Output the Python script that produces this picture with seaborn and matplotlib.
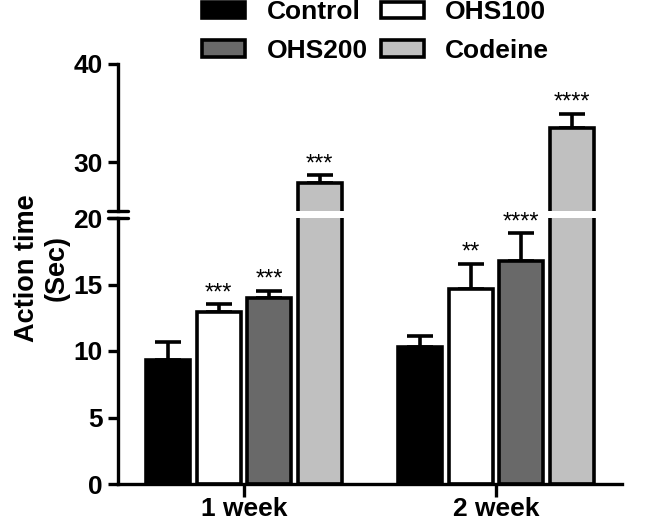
import matplotlib
matplotlib.use("Agg")
import matplotlib.pyplot as plt
import seaborn as sns
import pandas as pd
import numpy as np
from matplotlib.patches import Patch

# ---- data ----
weeks = ["1 week", "2 week"]
groups = ["Control", "OHS100", "OHS200", "Codeine"]
mean_1wk = [9.32, 12.95, 13.96, 27.83]
err_1wk = [1.38, 0.58, 0.57, 0.84]
mean_2wk = [10.28, 14.66, 16.79, 33.44]
err_2wk = [0.85, 1.88, 2.06, 1.46]
stars_1wk = ["", "***", "***", "***"]
stars_2wk = ["", "**", "****", "****"]
colors = ["#000000", "#ffffff", "#696969", "#c0c0c0"]

rows = []
for w, means, errs, st in [(weeks[0], mean_1wk, err_1wk, stars_1wk),
                           (weeks[1], mean_2wk, err_2wk, stars_2wk)]:
    for g, m, e, s in zip(groups, means, errs, st):
        rows.append(dict(week=w, group=g, value=m, err=e, star=s))
df = pd.DataFrame(rows)

sns.set_theme(style="ticks")
plt.rcParams['font.family'] = ['Liberation Sans', 'DejaVu Sans']
plt.rcParams['font.weight'] = 'bold'
for k in ("text.color", "axes.labelcolor", "xtick.color", "ytick.color",
          "axes.edgecolor"):
    plt.rcParams[k] = "black"

FS = 19
fig = plt.figure(figsize=(6.5, 5.22), dpi=100)
left = 118 / 650
width = (622 - 118) / 650
ax_top = fig.add_axes([left, (522 - 211) / 522, width, 147 / 522])
ax_bot = fig.add_axes([left, (522 - 484) / 522, width, 266 / 522])

palette = dict(zip(groups, colors))
LW = 2.6
for ax in (ax_top, ax_bot):
    sns.barplot(data=df, x="week", y="value", hue="group", order=weeks,
                hue_order=groups, palette=palette, width=0.8, gap=0.13,
                edgecolor="black", linewidth=LW, errorbar=None,
                legend=False, ax=ax, zorder=2)
    ax.set_xlim(-0.5, 1.5)
    ax.set_xlabel("")
    ax.set_ylabel("")
    for side in ("left", "bottom"):
        ax.spines[side].set_linewidth(2.4)
    ax.spines["right"].set_visible(False)
    ax.spines["top"].set_visible(False)
    ax.tick_params(axis="both", width=2.4, length=7, labelsize=FS, pad=4)
    for lab in ax.get_yticklabels() + ax.get_xticklabels():
        lab.set_fontweight("bold")

ax_bot.set_ylim(0, 20)
ax_bot.set_yticks([0, 5, 10, 15, 20])
ax_top.set_ylim(25, 40)
ax_top.set_yticks([30, 40])
ax_top.spines["bottom"].set_visible(False)
ax_top.tick_params(axis="x", bottom=False, labelbottom=False)
ax_bot.set_xticks([0, 1])
ax_bot.set_xticklabels(weeks, fontsize=FS, fontweight="bold")
ax_bot.tick_params(axis="x", length=9, pad=0.5)

# bar positions from the library
lookup = {}
for p in ax_bot.patches:
    h = p.get_height()
    if h > 0:
        cx = p.get_x() + p.get_width() / 2
        for _, r in df.iterrows():
            if abs(r["value"] - h) < 1e-6:
                lookup[(r["week"], r["group"])] = cx

for ax in (ax_top, ax_bot):
    for _, r in df.iterrows():
        cx = lookup[(r["week"], r["group"])]
        ax.errorbar(cx, r["value"], yerr=[[0], [r["err"]]], fmt="none",
                    ecolor="black", elinewidth=2.6, capsize=9.5,
                    capthick=2.6, zorder=1)
        if r["star"]:
            top = r["value"] + r["err"]
            lo, hi = ax.get_ylim()
            if lo <= top <= hi:
                ax.annotate(r["star"], (cx, top), xytext=(0, 0),
                            textcoords="offset points", ha="center",
                            va="bottom", fontsize=17, fontweight="normal",
                            annotation_clip=False)

# break marks
d = 20 / 650 / width / 2
for ax, yy in ((ax_top, 0), (ax_bot, 1)):
    ax.plot([-d, d], [yy, yy], transform=ax.transAxes, color="black",
            lw=2.4, clip_on=False, zorder=5)

# legend (row-wise order: Control, OHS100 / OHS200, Codeine)
order = ["Control", "OHS200", "OHS100", "Codeine"]
handles = [Patch(facecolor=palette[g], edgecolor="black", linewidth=LW,
                 label=g) for g in order]
fig.legend(handles=handles, ncol=2, loc="upper left",
           bbox_to_anchor=(178 / 650, 1.045), frameon=False,
           prop=dict(size=FS, weight="bold"), handlelength=1.65,
           handleheight=0.6, handletextpad=0.8, columnspacing=0.5,
           labelspacing=0.55)

fig.text(42 / 650, 1 - 268 / 522, "Action time\n(Sec)", rotation=90,
         ha="center", va="center", fontsize=FS + 0.5, fontweight="bold",
         linespacing=1.15)

fig.savefig("out.png", dpi=100)
